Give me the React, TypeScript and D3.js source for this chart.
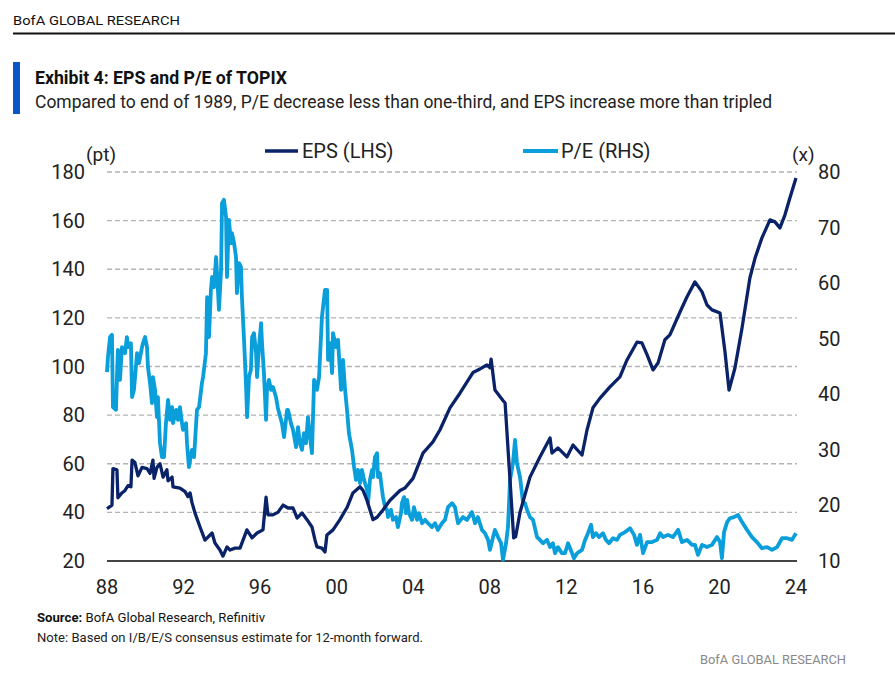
import React from "react";
import * as d3 from "d3";

const epsYears = [
  1988.0, 1988.26, 1988.31, 1988.52, 1988.57, 1988.78, 1988.94, 1989.1, 1989.25, 1989.31, 1989.46, 1989.62, 1989.83,
  1990.09, 1990.25, 1990.4, 1990.46, 1990.61, 1990.77, 1990.93, 1991.13, 1991.19, 1991.4, 1991.45, 1991.81,
  1992.08, 1992.23, 1992.34, 1992.44, 1992.6, 1992.86, 1993.12, 1993.49, 1993.64, 1993.9, 1994.06, 1994.27,
  1994.43, 1994.69, 1994.95, 1995.31, 1995.58, 1995.84, 1996.15, 1996.31, 1996.41, 1996.67, 1996.93, 1997.2,
  1997.46, 1997.72, 1997.93, 1998.19, 1998.45, 1998.71, 1998.87, 1998.97, 1999.23, 1999.39, 1999.49, 1999.81,
  2000.17, 2000.54, 2000.85, 2001.22, 2001.38, 2001.58, 2001.9, 2002.11, 2002.42, 2002.79, 2003.31, 2003.57,
  2003.99, 2004.51, 2005.03, 2005.4, 2005.92, 2006.44, 2007.12, 2007.49, 2007.85, 2008.01, 2008.07, 2008.27,
  2008.69, 2008.8, 2009.25, 2009.35, 2009.58, 2010.1, 2010.62, 2011.15, 2011.25, 2011.56, 2012.03, 2012.35,
  2012.82, 2013.08, 2013.39, 2013.76, 2014.28, 2014.8, 2015.17, 2015.69, 2015.95, 2016.21, 2016.53, 2016.79,
  2017.15, 2017.41, 2017.94, 2018.3, 2018.72, 2019.09, 2019.35, 2019.61, 2020.03, 2020.29, 2020.5, 2020.81,
  2021.18, 2021.59, 2021.86, 2022.22, 2022.64, 2022.9, 2023.16, 2023.42, 2023.68, 2024.0,
];
const epsValues = [
  41.5, 43, 58, 57.5, 46, 48, 49, 51, 50.5, 61.5, 60.5, 55, 58.5,
  58, 56, 61.5, 54, 58.5, 60, 54.5, 57.5, 53, 54.5, 50.5, 50,
  48.5, 46.5, 48, 44, 39.7, 34, 28.6, 31.5, 27.4, 24.5, 22, 25.8,
  24.5, 25.3, 25.3, 32.8, 29.5, 31.5, 32.8, 46.3, 39, 39, 40, 43,
  41.8, 41.8, 37.7, 39.7, 37, 34, 28.6, 25.8, 25.3, 23.7, 30.7, 32.8,
  37, 42, 48, 50.5, 49, 45, 37, 38, 41, 45, 49, 50,
  54, 64.4, 69, 74, 83, 89, 97.5, 99, 100.6, 99.5, 103, 90.3,
  86, 85, 29.5, 30, 40, 54.5, 62.8, 70.6, 64.4, 66.5, 62.8, 67.7,
  63.6, 73.9, 83, 87, 91.6, 95.7, 102.7, 110, 109.7, 105, 98.6, 101.4,
  111, 113, 122.4, 128.6, 134.8, 130.7, 125.3, 123.3, 122, 106, 90.3, 99.4,
  115.8, 136.4, 144.6, 152.9, 160.3, 159.5, 157, 162.3, 169.3, 177.5,
];

const peYears = [
  1988.0, 1988.05, 1988.16, 1988.26, 1988.31, 1988.47, 1988.52, 1988.57, 1988.68, 1988.78, 1988.94, 1989.04,
  1989.1, 1989.25, 1989.31, 1989.41, 1989.57, 1989.67, 1989.83, 1989.88, 1989.99, 1990.09, 1990.14, 1990.25,
  1990.35, 1990.4, 1990.51, 1990.61, 1990.66, 1990.77, 1990.87, 1990.98, 1991.08, 1991.19, 1991.29, 1991.4,
  1991.45, 1991.61, 1991.71, 1991.81, 1991.92, 1991.97, 1992.13, 1992.18, 1992.28, 1992.44, 1992.55, 1992.7,
  1992.81, 1992.96, 1993.02, 1993.17, 1993.23, 1993.33, 1993.43, 1993.49, 1993.59, 1993.7, 1993.75, 1993.85,
  1993.96, 1994.01, 1994.11, 1994.22, 1994.27, 1994.37, 1994.48, 1994.53, 1994.64, 1994.74, 1994.79, 1994.9,
  1995.0, 1995.05, 1995.16, 1995.26, 1995.32, 1995.42, 1995.52, 1995.58, 1995.68, 1995.79, 1995.84, 1995.94,
  1996.05, 1996.1, 1996.2, 1996.31, 1996.36, 1996.46, 1996.57, 1996.67, 1996.83, 1996.93, 1997.14, 1997.25,
  1997.41, 1997.46, 1997.61, 1997.72, 1997.88, 1997.98, 1998.08, 1998.19, 1998.29, 1998.4, 1998.5, 1998.61,
  1998.71, 1998.82, 1998.97, 1999.08, 1999.23, 1999.29, 1999.39, 1999.5, 1999.55, 1999.65, 1999.76, 1999.81,
  1999.97, 2000.07, 2000.23, 2000.33, 2000.44, 2000.54, 2000.64, 2000.8, 2000.91, 2001.01, 2001.11, 2001.22,
  2001.32, 2001.43, 2001.59, 2001.64, 2001.74, 2001.85, 2001.9, 2002.0, 2002.11, 2002.16, 2002.26, 2002.37,
  2002.42, 2002.53, 2002.63, 2002.68, 2002.84, 2002.94, 2003.1, 2003.2, 2003.36, 2003.41, 2003.52, 2003.62,
  2003.68, 2003.78, 2003.94, 2004.04, 2004.2, 2004.3, 2004.46, 2004.62, 2004.77, 2004.98, 2005.14, 2005.29,
  2005.5, 2005.66, 2005.82, 2006.03, 2006.18, 2006.34, 2006.6, 2006.81, 2007.07, 2007.23, 2007.38, 2007.59,
  2007.75, 2007.91, 2008.01, 2008.17, 2008.27, 2008.43, 2008.59, 2008.69, 2008.85, 2008.95, 2009.06, 2009.21,
  2009.32, 2009.42, 2009.58, 2009.74, 2009.84, 2009.95, 2010.1, 2010.26, 2010.47, 2010.62, 2010.78, 2010.99,
  2011.15, 2011.3, 2011.41, 2011.56, 2011.77, 2011.93, 2012.09, 2012.3, 2012.4, 2012.56, 2012.82, 2012.98,
  2013.13, 2013.29, 2013.39, 2013.55, 2013.71, 2013.92, 2014.07, 2014.23, 2014.44, 2014.65, 2014.8, 2015.07,
  2015.33, 2015.54, 2015.69, 2015.85, 2016.01, 2016.22, 2016.48, 2016.74, 2016.9, 2017.05, 2017.31, 2017.57,
  2017.84, 2018.04, 2018.31, 2018.57, 2018.72, 2018.88, 2019.09, 2019.35, 2019.61, 2019.87, 2020.03, 2020.13,
  2020.24, 2020.4, 2020.55, 2020.76, 2020.97, 2021.18, 2021.44, 2021.7, 2021.96, 2022.22, 2022.49, 2022.75,
  2023.01, 2023.27, 2023.53, 2023.79, 2024.0,
];
const peValues = [
  44.0, 46.7, 50.3, 50.7, 37.7, 37.2, 43.1, 48, 42.6, 48.5, 47.4, 50.3,
  48.5, 49.2, 39.5, 40.8, 47.4, 45.6, 48.5, 49.2, 50.3, 48.5, 44.9, 42,
  38.4, 43.1, 40.8, 35.9, 39.5, 31.2, 28.7, 28.7, 34.8, 39, 35.4, 37.7,
  34.8, 37.2, 35.4, 37.7, 34.8, 33.6, 34.8, 31.2, 26.9, 30, 28.7, 37.2,
  37.7, 42, 43.1, 47.4, 57.5, 50.3, 58.8, 61.1, 59.3, 64.7, 61.8, 55.2,
  62.4, 74.4, 75, 71.9, 61.1, 71.4, 67.2, 69, 67.2, 64.7, 58.2, 63.6,
  62.9, 57.5, 49.8, 42, 35.9, 43.1, 44.4, 50.3, 51, 47.4, 43.1, 48.5,
  52.8, 49.2, 43.8, 35.4, 40.8, 42.6, 40.8, 41.3, 39.5, 37.5, 34.8, 32.3,
  37.2, 37.2, 34.8, 33.6, 30.5, 34.1, 31.2, 30, 33, 31.2, 35.9, 32.3,
  29.4, 42.6, 40.8, 43.1, 53.9, 55.7, 58.8, 58.8, 46.2, 49.2, 43.8, 51,
  48.5, 49.8, 40.8, 46.2, 40.8, 37.2, 33, 30, 26.9, 24.6, 26.4, 24,
  26.4, 24.6, 22.8, 20.4, 24.6, 26.4, 25.1, 28.7, 29.4, 25.1, 25.8, 22.8,
  21.5, 19.7, 19.2, 17.9, 19.2, 17.4, 17.9, 16.1, 18.6, 20.4, 21.5, 18.6,
  21, 18.6, 17.4, 19.7, 17.4, 18.6, 16.8, 17.4, 16.8, 16.1, 16.8, 15.6,
  16.8, 17.4, 19.7, 20.4, 19.7, 16.8, 17.9, 17.4, 18.8, 16.8, 17.9, 15.6,
  15, 13.8, 12, 14.3, 15.6, 14.3, 13.2, 10.2, 13.2, 16.1, 24.6, 27.6,
  31.8, 27.6, 25.1, 20.4, 20.4, 19.2, 17.9, 17.4, 14.3, 13.8, 13.2, 13.8,
  12.5, 13.2, 11.4, 12.5, 11.4, 11.4, 13.2, 11.4, 10.5, 11.4, 12, 13.8,
  15, 16.5, 14.3, 15, 14.3, 15, 13.8, 13.2, 14.1, 13.8, 14.7, 15.2,
  15.9, 14.7, 12.9, 14.7, 11.4, 13.4, 13.4, 13.8, 15, 14.3, 14.7, 14.3,
  15.6, 13.4, 13.8, 12.9, 12.9, 11.1, 12.9, 12.5, 12.9, 14.3, 13.4, 10.5,
  15.2, 17, 17.7, 17.9, 18.3, 17, 15.6, 14.3, 13.4, 12.3, 12.5, 12,
  12.5, 14.1, 14.1, 13.8, 15,
];

const leftTicks = [20, 40, 60, 80, 100, 120, 140, 160, 180];
const rightTicks = [10, 20, 30, 40, 50, 60, 70, 80];
const xTicks = [1988, 1992, 1996, 2000, 2004, 2008, 2012, 2016, 2020, 2024];
const xTickLabels = ["88", "92", "96", "00", "04", "08", "12", "16", "20", "24"];

const seriesNames = ["EPS (LHS)", "P/E (RHS)"];
const EPS_COLOR = "#0a2268";
const PE_COLOR = "#0a9edb";
const FONT = "Roboto, 'Open Sans', sans-serif";

export default function App() {
  const x = d3.scaleLinear().domain([1988, 2024]).range([107, 796]);
  const yL = d3.scaleLinear().domain([20, 180]).range([561, 172]);
  const yR = d3.scaleLinear().domain([10, 80]).range([561, 172]);

  const epsLine = d3
    .line<number>()
    .x((_, i) => x(epsYears[i]))
    .y((d) => yL(d));
  const peLine = d3
    .line<number>()
    .x((_, i) => x(peYears[i]))
    .y((d) => yR(d));

  const [x0, x1] = [107, 797];

  return (
    <svg
      width={895}
      height={683}
      style={{ position: "absolute", left: 0, top: 0, background: "#fff" }}
      fontFamily={FONT}
    >
      {/* header */}
      <text x={13} y={25} fontSize={12.5} fill="#111" textLength={167} lengthAdjust="spacingAndGlyphs">
        BofA GLOBAL RESEARCH
      </text>
      <line x1={13} x2={895} y1={33.5} y2={33.5} stroke="#111" strokeWidth={2} />

      {/* title block */}
      <rect x={13} y={62} width={7} height={52} fill="#0a56c9" />
      <text x={35} y={84} fontSize={17.5} fontWeight={700} fill="#111" textLength={252} lengthAdjust="spacingAndGlyphs">
        Exhibit 4: EPS and P/E of TOPIX
      </text>
      <text x={35} y={108} fontSize={17.5} fill="#222" textLength={737} lengthAdjust="spacingAndGlyphs">
        Compared to end of 1989, P/E decrease less than one-third, and EPS increase more than tripled
      </text>

      {/* gridlines */}
      {leftTicks
        .filter((t) => t !== 20)
        .map((t) => (
          <line
            key={"g" + t}
            x1={x0}
            x2={x1}
            y1={yL(t)}
            y2={yL(t)}
            stroke="#b3b3b3"
            strokeWidth={1.3}
            strokeDasharray="5,3"
          />
        ))}
      <line x1={x0} x2={x1} y1={561} y2={561} stroke="#444" strokeWidth={1.8} />

      {/* left ticks */}
      {leftTicks.map((t) => (
        <text key={"l" + t} x={85} y={yL(t) + 7} fontSize={20} textAnchor="end" fill="#222">
          {t}
        </text>
      ))}
      <text x={86} y={161} fontSize={19} fill="#222">
        (pt)
      </text>

      {/* right ticks */}
      {rightTicks.map((t) => (
        <text key={"r" + t} x={818} y={yR(t) + 7} fontSize={20} fill="#222">
          {t}
        </text>
      ))}
      <text x={792} y={161} fontSize={19} fill="#222">
        (x)
      </text>

      {/* x ticks */}
      {xTicks.map((t, i) => (
        <text key={"x" + t} x={x(t)} y={594} fontSize={20} textAnchor="middle" fill="#222">
          {xTickLabels[i]}
        </text>
      ))}

      {/* series */}
      <path d={peLine(peValues) || ""} fill="none" stroke={PE_COLOR} strokeWidth={3.8} strokeLinejoin="round" />
      <path d={epsLine(epsValues) || ""} fill="none" stroke={EPS_COLOR} strokeWidth={3.3} strokeLinejoin="round" />

      {/* legend */}
      <line x1={265} x2={298} y1={151} y2={151} stroke={EPS_COLOR} strokeWidth={3.3} />
      <text x={302} y={158} fontSize={20} fill="#222">
        {seriesNames[0]}
      </text>
      <line x1={523} x2={558} y1={151} y2={151} stroke={PE_COLOR} strokeWidth={3.8} />
      <text x={561} y={158} fontSize={20} fill="#222">
        {seriesNames[1]}
      </text>

      {/* footer */}
      <text x={37} y={622} fontSize={13} fill="#111" textLength={228} lengthAdjust="spacingAndGlyphs">
        <tspan fontWeight={700}>Source:</tspan> BofA Global Research, Refinitiv
      </text>
      <text x={37} y={642} fontSize={13} fill="#222" textLength={386} lengthAdjust="spacingAndGlyphs">
        Note: Based on I/B/E/S consensus estimate for 12-month forward.
      </text>
      <text x={846} y={664} fontSize={13} fill="#888" textAnchor="end" textLength={146} lengthAdjust="spacingAndGlyphs">
        BofA GLOBAL RESEARCH
      </text>
    </svg>
  );
}
